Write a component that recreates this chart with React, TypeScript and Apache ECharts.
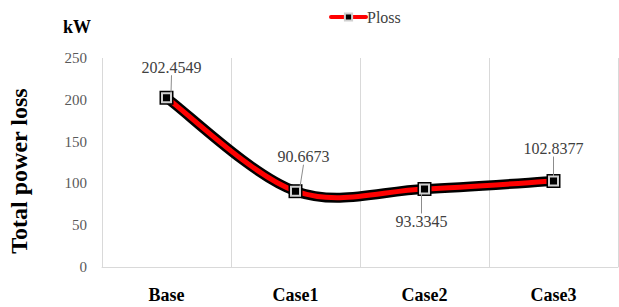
import React, { useEffect, useRef } from "react";
import * as echarts from "echarts";

const categories = ["Base", "Case1", "Case2", "Case3"];
const ploss = [202.4549, 90.6673, 93.3345, 102.8377];
const labelOffsets = [
  [5, -17],
  [8, -21],
  [-3, 46],
  [0, -19],
];
const yTicks = [0, 50, 100, 150, 200, 250];

const FONT = "Liberation Serif";

export default function App() {
  const ref = useRef<HTMLDivElement>(null);
  useEffect(() => {
    if (!ref.current) return;
    const chart = echarts.init(ref.current, null, { renderer: "svg" });
    const renderCurve = (params: any, api: any) => {
      if (params.dataIndex !== 0) return null;
      const pts = ploss.map((v, i) => api.coord([i, v]));
      const n = pts.length;
      let d = `M${pts[0][0]},${pts[0][1]}`;
      for (let i = 0; i < n - 1; i++) {
        const p0 = pts[Math.max(i - 1, 0)];
        const p1 = pts[i];
        const p2 = pts[i + 1];
        const p3 = pts[Math.min(i + 2, n - 1)];
        const c1x = p1[0] + (p2[0] - p0[0]) / 6;
        const c1y = p1[1] + (p2[1] - p0[1]) / 6;
        const c2x = p2[0] - (p3[0] - p1[0]) / 6;
        const c2y = p2[1] - (p3[1] - p1[1]) / 6;
        d += ` C${c1x},${c1y} ${c2x},${c2y} ${p2[0]},${p2[1]}`;
      }
      return {
        type: "group",
        children: [
          {
            type: "path",
            shape: { pathData: d },
            style: { fill: "none", stroke: "#000", lineWidth: 10, lineJoin: "round" },
          },
          {
            type: "path",
            shape: { pathData: d },
            style: { fill: "none", stroke: "#ff0000", lineWidth: 5, lineJoin: "round" },
          },
        ],
      };
    };
    chart.setOption({
      animation: false,
      grid: { left: 102, right: 1, top: 58, bottom: 40, containLabel: false },
      legend: {
        data: ["Ploss"],
        top: 4,
        left: 324,
        itemWidth: 35,
        itemHeight: 9,
        itemGap: 4,
        lineStyle: { color: "#ff0000", width: 4, opacity: 1, cap: "round" },
        textStyle: { fontFamily: FONT, fontSize: 16, color: "#404040", padding: [0, 0, 0, -4] },
      },
      graphic: [
        {
          type: "text",
          left: 63,
          top: 18,
          style: { text: "kW", fontFamily: FONT, fontSize: 18, fontWeight: "bold", fill: "#000" },
        },
        {
          type: "text",
          x: 19,
          y: 171,
          rotation: Math.PI / 2,
          style: {
            text: "Total power loss",
            fontFamily: FONT,
            fontSize: 24,
            fontWeight: "bold",
            fill: "#000",
            align: "center",
            verticalAlign: "middle",
          },
        },
      ],
      xAxis: {
        type: "category",
        data: categories,
        boundaryGap: true,
        axisLine: { lineStyle: { color: "#d9d9d9", width: 1 } },
        axisTick: { show: false },
        axisLabel: {
          margin: 19,
          fontFamily: FONT,
          fontWeight: "bold",
          fontSize: 18,
          color: "#000",
        },
        splitLine: { show: true, interval: 0, lineStyle: { color: "#d9d9d9", width: 1 } },
      },
      yAxis: {
        type: "value",
        min: yTicks[0],
        max: yTicks[yTicks.length - 1],
        interval: 50,
        axisLine: { show: false },
        axisTick: { show: false },
        splitLine: { show: false },
        axisLabel: { margin: 15, fontFamily: FONT, fontSize: 15, color: "#595959" },
      },
      series: [
        {
          name: "curve",
          type: "custom",
          data: ploss.map((v, i) => [i, v]),
          renderItem: renderCurve,
          silent: true,
          z: 1,
        },
        {
          name: "outline",
          type: "line",
          data: ploss,
          symbol: "rect",
          symbolSize: 14,
          itemStyle: { color: "#000" },
          lineStyle: { opacity: 0 },
          silent: true,
          z: 2,
        },
        {
          name: "Ploss",
          type: "line",
          data: ploss,
          symbol: "rect",
          symbolSize: 9,
          itemStyle: { color: "#000", borderColor: "#d0d0d0", borderWidth: 2 },
          lineStyle: { opacity: 0 },
          z: 3,
          label: {
            show: true,
            position: "top",
            distance: 0,
            fontFamily: FONT,
            fontSize: 16,
            color: "#404040",
          },
          labelLine: { show: true, lineStyle: { color: "#8c8c8c", width: 1 } },
          labelLayout: (params: any) => {
            const o = labelOffsets[params.dataIndex];
            return { dx: o[0], dy: o[1] };
          },
        },
      ],
    });
    return () => chart.dispose();
  }, []);
  return <div ref={ref} style={{ width: 619, height: 307, position: "absolute", left: 0, top: 0 }} />;
}
